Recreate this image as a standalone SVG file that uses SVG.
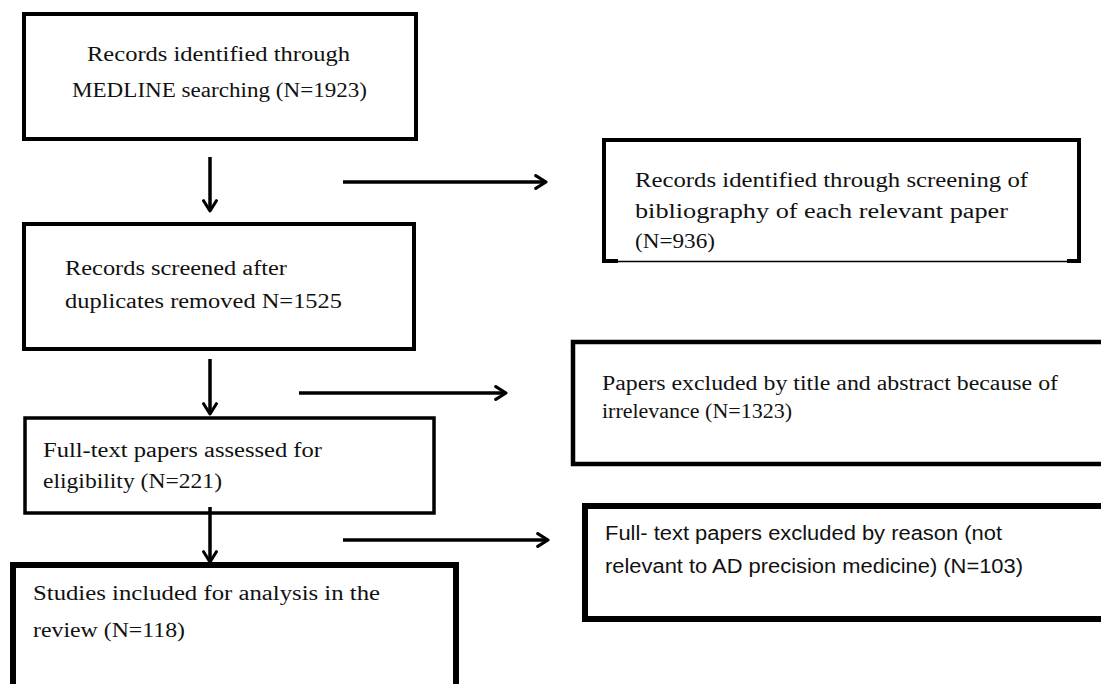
<svg xmlns="http://www.w3.org/2000/svg" width="1101" height="684" viewBox="0 0 1101 684">
<style>
.box{fill:#fff;stroke:#000}
.s{font-family:"Liberation Serif","DejaVu Serif",serif;font-size:20.5px;fill:#111}
.c{font-family:"Liberation Sans","DejaVu Sans",sans-serif;font-size:20px;fill:#111}
.con{stroke:#000;stroke-width:3.5;fill:none}
</style>
<defs>
<marker id="ah" viewBox="0 0 12 12" refX="10" refY="6" markerWidth="4.4" markerHeight="4.4" orient="auto" markerUnits="strokeWidth">
<path d="M2,1 L10,6 L2,11" fill="none" stroke="#000" stroke-width="2.4" stroke-linecap="round" stroke-linejoin="round"/>
</marker>
</defs>
<rect width="1101" height="684" fill="#fff"/>
<g id="n1">
<rect class="box" x="24" y="14" width="392" height="125" stroke-width="4"/>
<text class="s" x="87" y="61" textLength="263" lengthAdjust="spacingAndGlyphs">Records identified  through</text>
<text class="s" x="72" y="97" textLength="295" lengthAdjust="spacingAndGlyphs">MEDLINE searching (N=1923)</text>
</g>
<g id="n2">
<path d="M604,261 V140 H1079 V261" fill="#fff" stroke="#000" stroke-width="4"/>
<line x1="604" y1="261.5" x2="1079" y2="261.5" stroke="#000" stroke-width="1.5"/>
<line x1="602" y1="261" x2="618" y2="261" stroke="#000" stroke-width="4"/>
<line x1="1067" y1="261" x2="1081" y2="261" stroke="#000" stroke-width="4"/>
<text class="s" x="635" y="187" textLength="393" lengthAdjust="spacingAndGlyphs">Records identified  through screening of</text>
<text class="s" x="635" y="218" textLength="373" lengthAdjust="spacingAndGlyphs">bibliography of each relevant paper</text>
<text class="s" x="635" y="248" textLength="80" lengthAdjust="spacingAndGlyphs">(N=936)</text>
</g>
<g id="n3">
<rect class="box" x="24" y="224" width="390" height="125" stroke-width="4"/>
<text class="s" x="65" y="275" textLength="222" lengthAdjust="spacingAndGlyphs">Records screened after</text>
<text class="s" x="65" y="308" textLength="277" lengthAdjust="spacingAndGlyphs">duplicates removed  N=1525</text>
</g>
<g id="n4">
<rect class="box" x="573" y="342" width="540" height="122" stroke-width="4.5"/>
<text class="s" x="602" y="390" textLength="456" lengthAdjust="spacingAndGlyphs">Papers excluded  by title and abstract because of</text>
<text class="s" x="602" y="418" textLength="190" lengthAdjust="spacingAndGlyphs">irrelevance (N=1323)</text>
</g>
<g id="n5">
<rect class="box" x="25" y="418" width="409" height="95" stroke-width="3.5"/>
<text class="s" x="43" y="457" textLength="279" lengthAdjust="spacingAndGlyphs">Full-text papers assessed for</text>
<text class="s" x="43" y="488" textLength="179" lengthAdjust="spacingAndGlyphs">eligibility (N=221)</text>
</g>
<g id="n6">
<rect class="box" x="13" y="565" width="443" height="130" stroke-width="6"/>
<text class="s" x="33" y="600" textLength="347" lengthAdjust="spacingAndGlyphs">Studies included for  analysis in the</text>
<text class="s" x="33" y="637" textLength="152" lengthAdjust="spacingAndGlyphs">review (N=118)</text>
</g>
<g id="n7">
<rect class="box" x="585" y="506" width="530" height="113" stroke-width="6"/>
<text class="c" x="605" y="540" textLength="397" lengthAdjust="spacingAndGlyphs">Full- text papers excluded by reason (not</text>
<text class="c" x="605" y="573" textLength="418" lengthAdjust="spacingAndGlyphs">relevant to AD precision medicine) (N=103)</text>
</g>
<g id="connectors">
<line class="con" x1="210" y1="157" x2="210" y2="211" marker-end="url(#ah)"/>
<line class="con" x1="343" y1="182" x2="546" y2="182" marker-end="url(#ah)"/>
<line class="con" x1="210" y1="359" x2="210" y2="414" marker-end="url(#ah)"/>
<line class="con" x1="299" y1="393" x2="506" y2="393" marker-end="url(#ah)"/>
<line class="con" x1="210" y1="507" x2="210" y2="562" marker-end="url(#ah)"/>
<line class="con" x1="343" y1="540" x2="548" y2="540" marker-end="url(#ah)"/>
</g>
</svg>
